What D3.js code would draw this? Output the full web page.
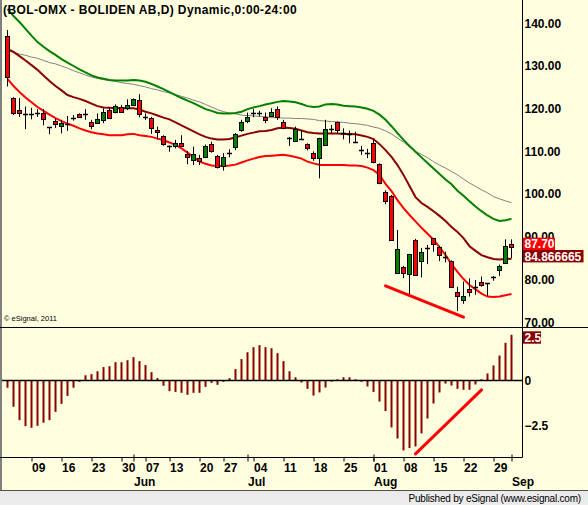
<!DOCTYPE html>
<html>
<head>
<meta charset="utf-8">
<script src="https://cdn.jsdelivr.net/npm/d3@7"></script>
<style>
  body { margin: 0; background: #fff; }
  text { font-family: "Liberation Sans", Arial, sans-serif; }
</style>
</head>
<body>
<svg id="chart" width="588" height="505"></svg>
<script>
// trading days, 2011 (Stockholm holidays Jun 2, Jun 6, Jun 24 skipped)
const dates = [
  "05-03","05-04","05-05","05-06","05-09","05-10","05-11","05-12","05-13","05-16",
  "05-17","05-18","05-19","05-20","05-23","05-24","05-25","05-26","05-27","05-30",
  "05-31","06-01","06-03","06-07","06-08","06-09","06-10","06-13","06-14","06-15",
  "06-16","06-17","06-20","06-21","06-22","06-23","06-27","06-28","06-29","06-30",
  "07-01","07-04","07-05","07-06","07-07","07-08","07-11","07-12","07-13","07-14",
  "07-15","07-18","07-19","07-20","07-21","07-22","07-25","07-26","07-27","07-28",
  "07-29","08-01","08-02","08-03","08-04","08-05","08-08","08-09","08-10","08-11",
  "08-12","08-15","08-16","08-17","08-18","08-19","08-22","08-23","08-24","08-25",
  "08-26","08-29","08-30","08-31","09-01"
];

const open = [
  137.0,122.5,119.7,118.8,118.8,119.0,118.9,115.6,117.1,116.0,
  116.3,117.9,118.7,118.7,117.0,116.6,117.4,119.7,119.2,120.5,
  120.1,120.8,122.0,118.0,117.8,115.0,113.6,111.3,111.3,112.0,
  109.4,108.0,108.4,108.8,111.7,108.9,106.4,109.7,110.9,115.0,
  117.2,118.9,118.9,118.1,118.3,119.9,116.8,113.2,112.4,112.9,
  111.7,109.6,108.4,111.5,115.2,116.8,114.2,114.0,112.1,110.3,
  109.7,111.9,107.0,100.6,99.6,81.5,82.9,81.1,89.3,84.2,
  87.4,89.7,87.7,85.3,84.3,77.1,75.3,77.7,78.2,79.5,
  79.1,80.7,82.2,83.8,88.4
];
const high = [
  138.4,122.7,122.5,120.5,120.2,119.9,119.9,115.7,117.7,117.4,
  118.3,118.5,118.9,119.9,117.4,118.9,120.1,120.3,121.0,120.9,
  122.2,122.4,123.4,118.9,118.1,115.8,113.8,111.4,112.7,113.8,
  110.1,111.1,109.2,111.6,112.3,109.2,109.6,110.5,114.3,117.4,
  119.1,119.9,119.5,119.1,120.1,120.5,117.4,113.4,115.8,115.0,
  111.9,110.0,113.2,117.4,116.2,117.0,115.4,114.9,114.6,111.3,
  110.6,112.7,107.2,100.9,99.8,91.6,83.2,86.0,89.5,87.4,
  88.1,89.7,87.9,86.5,84.5,78.3,79.5,80.3,79.9,80.7,
  79.1,80.8,83.5,89.4,89.4
];
const low = [
  125.2,118.5,118.1,115.2,117.5,118.1,116.1,114.0,115.5,114.2,
  114.8,117.2,118.0,117.4,115.2,116.4,116.6,117.8,118.9,119.2,
  119.7,120.6,118.0,117.4,114.1,112.8,111.3,109.9,110.7,111.0,
  107.0,106.8,106.8,108.4,109.7,106.0,105.5,108.6,110.3,114.6,
  116.6,118.0,118.2,116.6,118.1,117.4,115.2,111.3,112.3,112.8,
  110.2,107.8,103.7,111.3,114.2,114.1,112.8,111.9,112.0,109.2,
  108.4,107.2,102.3,97.6,89.2,81.3,80.3,76.0,80.9,80.5,
  83.6,86.5,84.3,84.0,78.1,72.6,74.3,76.0,76.4,78.3,
  76.2,79.7,80.8,83.6,85.0
];
const close = [
  127.4,118.9,118.9,118.8,118.8,119.0,117.4,115.6,116.3,116.6,
  116.3,117.9,118.1,118.7,116.1,117.6,119.2,117.9,120.6,119.4,
  120.8,122.2,118.7,118.0,115.4,114.5,111.7,111.3,112.0,111.3,
  108.8,109.3,107.6,111.3,110.1,106.4,108.6,109.7,114.0,116.8,
  118.1,118.9,118.9,117.4,119.2,118.0,115.5,113.2,115.3,112.9,
  110.7,108.4,113.1,115.2,115.2,115.0,114.2,114.0,112.1,110.3,
  109.7,107.4,102.5,98.6,89.4,87.1,81.5,85.9,81.1,86.4,
  87.4,88.2,85.9,85.3,78.3,76.2,76.2,77.0,78.2,78.7,
  79.1,80.7,83.2,87.8,87.7
];

const upperBand = [
  143.4,141.7,140.3,138.7,137.1,135.6,134.5,133.5,132.6,131.6,
  130.8,130.0,129.2,128.5,127.8,127.3,127.0,126.7,126.6,126.6,
  126.6,126.7,126.6,126.3,125.8,125.2,124.6,123.9,123.2,122.5,
  121.9,121.3,120.6,119.9,119.5,119.0,118.9,118.9,119.0,119.3,
  119.9,120.3,120.6,121.0,121.3,121.6,121.8,121.7,121.5,121.1,
  120.6,120.4,120.5,121.0,121.1,121.0,120.7,120.6,120.5,120.3,
  120.0,119.5,118.6,117.4,115.9,114.3,112.7,111.3,109.9,108.6,
  107.3,106.0,104.7,103.4,102.3,100.8,99.6,98.3,97.1,96.0,
  95.0,94.2,93.7,93.9,94.2
];
const slowMA = [
  133.5,133.2,132.8,132.5,132.1,131.8,131.3,130.8,130.5,130.0,
  129.5,128.9,128.4,127.9,127.4,127.1,126.8,126.6,126.4,126.1,
  125.9,125.7,125.4,125.1,124.7,124.4,124.0,123.7,123.3,122.9,
  122.5,122.0,121.6,121.0,120.4,119.8,119.3,119.0,118.8,118.5,
  118.4,118.3,118.2,118.1,117.9,117.9,117.8,117.8,117.7,117.7,
  117.6,117.5,117.2,117.1,117.0,116.9,116.8,116.6,116.5,116.3,
  116.1,115.7,115.4,114.8,114.1,113.1,112.2,111.0,110.0,109.3,
  108.5,107.6,106.8,106.1,105.3,104.5,103.5,102.6,101.8,101.0,
  100.3,99.4,98.9,98.4,98.0
];
const midBand = [
  134.0,133.3,132.3,131.3,130.2,129.1,127.8,126.5,125.3,124.3,
  123.2,122.7,122.3,121.8,121.2,120.6,120.3,120.2,120.1,120.1,
  120.1,120.1,119.8,119.3,118.9,118.4,117.9,117.5,116.8,116.1,
  115.4,114.7,114.0,113.4,113.0,112.8,112.8,112.9,113.3,113.7,
  114.1,114.4,114.7,114.8,115.0,115.4,115.6,115.5,115.3,114.9,
  114.5,114.3,114.2,114.2,114.2,114.2,114.1,114.1,114.0,113.7,
  113.4,112.9,111.7,110.3,108.7,106.8,104.5,101.9,99.3,97.9,
  97.0,96.0,94.9,93.7,92.3,91.1,89.7,87.8,86.7,85.7,
  85.2,84.8,84.7,84.8,84.87
];
const lowerBand = [
  127.0,125.3,123.9,122.6,121.5,120.4,119.5,118.6,117.8,117.1,
  116.5,116.0,115.4,114.9,114.5,114.2,114.0,113.8,113.8,113.8,
  114.0,114.1,113.8,113.6,113.4,113.0,112.6,112.1,111.5,110.7,
  109.7,108.7,107.6,107.1,106.7,106.6,106.6,106.7,106.9,107.4,
  107.9,108.3,108.7,108.9,109.0,109.1,109.2,109.0,108.7,108.3,
  107.6,107.2,106.8,106.8,106.8,106.8,106.8,106.7,106.7,106.6,
  106.2,105.6,104.5,102.4,100.7,98.6,96.7,95.1,93.6,92.1,
  90.7,89.3,87.6,85.7,83.6,81.8,80.1,78.7,77.7,76.7,
  76.0,75.9,76.0,76.3,76.6
];
const oscillator = [
  -0.40,-1.45,-2.19,-2.52,-2.61,-2.50,-2.33,-2.19,-1.73,-1.29,
  -0.85,-0.40,-0.07,0.29,0.35,0.51,0.74,0.79,1.01,1.01,
  1.12,1.29,1.07,0.85,0.46,0.13,-0.29,-0.59,-0.63,-0.68,
  -0.79,-0.68,-0.68,-0.35,-0.13,-0.24,-0.07,0.13,0.63,1.18,
  1.56,1.84,1.95,1.84,1.78,1.51,1.07,0.51,0.18,-0.11,
  -0.46,-0.83,-0.66,-0.39,-0.06,0.07,0.18,0.18,0.07,-0.07,
  -0.33,-0.63,-1.16,-1.69,-2.59,-3.20,-3.86,-3.73,-3.64,-2.92,
  -2.10,-1.27,-0.66,-0.17,-0.28,-0.46,-0.51,-0.51,-0.22,0.07,
  0.39,0.83,1.38,2.08,2.52
];

const weekTicks = ["05-09","05-16","05-23","05-30","06-07","06-13","06-20","06-27",
  "07-04","07-11","07-18","07-25","08-01","08-08","08-15","08-22","08-29"];
const monthTicks = ["06-01","07-01","08-01","09-01"];
const monthLabels = ["Jun","Jul","Aug","Sep"];
const priceTicks = [70, 80, 90, 100, 110, 120, 130, 140];
const oscTicks = [0, -2.5];

// hand-drawn trend lines: [date, value]
const priceTrend = [["08-03", 78.5], ["08-22", 71.2]];
const oscTrend = [["08-10", -4.05], ["08-25", -0.52]];

const title = "(BOL-OMX - BOLIDEN AB,D) Dynamic,0:00-24:00";
const bg = "#FFFFE0";

const svg = d3.select("#chart");
const W = 588, H = 505;
const axisX = 522.5;
const panelSplit = 327.5;
const bottomY = 457.5;

svg.append("rect").attr("width", W).attr("height", H).attr("fill", bg);

const x = d3.scalePoint().domain(dates).range([7.5, 511.5]);
const y = d3.scaleLinear().domain([70, 140]).range([322.2, 23.3]);
const yo = d3.scaleLinear().domain([-2.5, 2.5]).range([425.8, 335.2]);

svg.append("clipPath").attr("id", "price-clip")
  .append("rect").attr("x", 2).attr("y", 0).attr("width", axisX - 2).attr("height", panelSplit);

// Bands
const pricePanel = svg.append("g").attr("clip-path", "url(#price-clip)");
const line = (vals) => d3.line().x((d, i) => x(dates[i])).y((d) => y(d))(vals);

pricePanel.append("path").attr("d", line(slowMA))
  .attr("fill", "none").attr("stroke", "#808080").attr("stroke-width", 1);
pricePanel.append("path").attr("d", line(upperBand))
  .attr("fill", "none").attr("stroke", "#008000").attr("stroke-width", 2);
pricePanel.append("path").attr("d", line(midBand))
  .attr("fill", "none").attr("stroke", "#8B0000").attr("stroke-width", 2);
pricePanel.append("path").attr("d", line(lowerBand))
  .attr("fill", "none").attr("stroke", "#FF0000").attr("stroke-width", 2);

// Candles
const candle = pricePanel.selectAll("g.candle").data(dates).join("g").attr("class", "candle");
candle.append("line")
  .attr("x1", (d) => x(d)).attr("x2", (d) => x(d))
  .attr("y1", (d, i) => y(high[i])).attr("y2", (d, i) => y(low[i]))
  .attr("stroke", "#000").attr("stroke-width", 1);
candle.each(function (d, i) {
  const g = d3.select(this);
  const cx = x(d);
  if (Math.abs(open[i] - close[i]) < 0.05) {
    g.append("line")
      .attr("x1", cx - 2.5).attr("x2", cx + 2.5)
      .attr("y1", Math.round(y(open[i])) + 0.5).attr("y2", Math.round(y(open[i])) + 0.5)
      .attr("stroke", "#000").attr("stroke-width", 1.5);
  } else {
    const t = y(Math.max(open[i], close[i]));
    const b = y(Math.min(open[i], close[i]));
    g.append("rect")
      .attr("x", cx - 2).attr("width", 4)
      .attr("y", Math.round(t) + 0.5).attr("height", Math.max(1, Math.round(b - t)))
      .attr("fill", close[i] > open[i] ? "#008000" : "#FF0000")
      .attr("stroke", "#000").attr("stroke-width", 1);
  }
});

// Price trend line
pricePanel.append("line")
  .attr("x1", x(priceTrend[0][0])).attr("y1", y(priceTrend[0][1]))
  .attr("x2", x(priceTrend[1][0])).attr("y2", y(priceTrend[1][1]))
  .attr("stroke", "#FF0000").attr("stroke-width", 3).attr("stroke-linecap", "round");

// Oscillator histogram
const osc = svg.append("g");
osc.selectAll("rect").data(oscillator).join("rect")
  .attr("x", (d, i) => x(dates[i]) - 1)
  .attr("width", 2)
  .attr("y", (d) => Math.min(yo(d), yo(0)))
  .attr("height", (d) => Math.abs(yo(d) - yo(0)))
  .attr("fill", "#8B0000");
osc.append("line")
  .attr("x1", 2).attr("x2", axisX)
  .attr("y1", yo(0)).attr("y2", yo(0))
  .attr("stroke", "#000").attr("stroke-width", 1.5);
osc.append("line")
  .attr("x1", x(oscTrend[0][0])).attr("y1", yo(oscTrend[0][1]))
  .attr("x2", x(oscTrend[1][0])).attr("y2", yo(oscTrend[1][1]))
  .attr("stroke", "#FF0000").attr("stroke-width", 3).attr("stroke-linecap", "round");

// Frame lines
svg.append("line").attr("x1", 1).attr("x2", 1).attr("y1", 0).attr("y2", 490)
  .attr("stroke", "#808080").attr("stroke-width", 2);
svg.append("line").attr("x1", axisX).attr("x2", axisX).attr("y1", 0).attr("y2", bottomY)
  .attr("stroke", "#000");
svg.append("line").attr("x1", 0).attr("x2", W).attr("y1", panelSplit).attr("y2", panelSplit)
  .attr("stroke", "#000");
svg.append("line").attr("x1", 0).attr("x2", axisX).attr("y1", bottomY).attr("y2", bottomY)
  .attr("stroke", "#000");

// Right axes
const priceAxis = svg.append("g").attr("transform", `translate(${axisX},0)`)
  .call(d3.axisRight(y).tickValues(priceTicks).tickSize(0).tickPadding(2).tickFormat(d3.format(".2f")));
const oscAxis = svg.append("g").attr("transform", `translate(${axisX},0)`)
  .call(d3.axisRight(yo).tickValues(oscTicks).tickSize(0).tickPadding(2).tickFormat((d) => d === 0 ? "0" : d3.format(".1f")(d)));
[priceAxis, oscAxis].forEach((a) => {
  a.select(".domain").remove();
  a.selectAll("text").attr("font-size", 12).attr("font-weight", "bold").attr("fill", "#000")
    .style("font-family", '"Liberation Sans", Arial, sans-serif');
});

// Last-value boxes
function valueBox(yPos, label, color, w) {
  const g = svg.append("g");
  g.append("rect").attr("x", axisX + 0.5).attr("y", yPos - 6.2).attr("width", w).attr("height", 12.4)
    .attr("fill", color);
  g.append("text").attr("x", axisX + 2).attr("y", yPos + 4.3)
    .attr("font-size", 12).attr("font-weight", "bold").attr("fill", "#fff").text(label);
}
const lastClose = close[close.length - 1];
const lastMid = midBand[midBand.length - 1];
const lastOsc = oscillator[oscillator.length - 1];
valueBox(y(lastClose) - 2.8, lastClose.toFixed(2), "#FF0000", 32);
valueBox(y(lastMid) - 2.5, "84.866665", "#8B0000", 60.5);
valueBox(Math.max(yo(lastOsc), 337.5), lastOsc.toFixed(1), "#8B0000", 18);

// X axis: weekly ticks
const wk = svg.append("g").attr("transform", `translate(0,${bottomY})`)
  .call(d3.axisBottom(x).tickValues(weekTicks).tickSize(4).tickPadding(0).tickFormat((d) => d.slice(3)));
wk.select(".domain").remove();
wk.selectAll("text").attr("text-anchor", "start").attr("dy", 0).attr("y", 14)
  .attr("font-size", 12).attr("font-weight", "bold").attr("fill", "#000")
  .style("font-family", '"Liberation Sans", Arial, sans-serif');

const mo = svg.append("g").attr("transform", `translate(0,${bottomY})`)
  .call(d3.axisBottom(x).tickValues(monthTicks).tickSize(4).tickPadding(0)
    .tickFormat((d, i) => monthLabels[i]));
mo.select(".domain").remove();
mo.selectAll(".tick line").attr("y1", -3);
mo.selectAll("text").attr("text-anchor", "start").attr("dy", 0).attr("y", 28)
  .attr("font-size", 12).attr("font-weight", "bold").attr("fill", "#000")
  .style("font-family", '"Liberation Sans", Arial, sans-serif');

// Title and copyright
svg.append("text").attr("x", 3).attr("y", 14)
  .attr("font-size", 12).attr("font-weight", "bold").attr("fill", "#000")
  .attr("letter-spacing", 0.4).text(title);
svg.append("text").attr("x", 4).attr("y", 321)
  .attr("font-size", 7.5).attr("fill", "#000").text("\u00a9 eSignal, 2011");

// Footer
svg.append("rect").attr("x", 0).attr("y", 490.5).attr("width", W).attr("height", H - 490.5)
  .attr("fill", "#EBEBEB");
svg.append("line").attr("x1", 0).attr("x2", W).attr("y1", 490.5).attr("y2", 490.5)
  .attr("stroke", "#505050");
svg.append("text").attr("x", 581).attr("y", 502).attr("text-anchor", "end")
  .attr("font-size", 10).attr("letter-spacing", -0.2).attr("fill", "#000")
  .text("Published by eSignal (www.esignal.com)");
</script>
</body>
</html>
